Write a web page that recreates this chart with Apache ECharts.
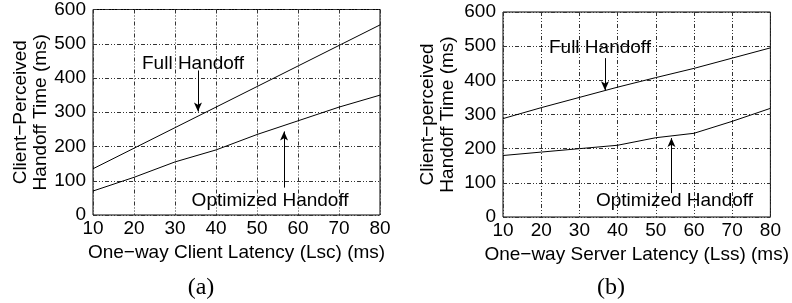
<!DOCTYPE html>
<html>
<head>
<meta charset="UTF-8">
<title>Handoff time</title>
<style type="text/css">
  body { margin: 0; background: #fff; }
  #main { width: 792px; height: 303px; }
</style>
</head>
<body>
<div id="main"></div>
<script src="https://cdn.jsdelivr.net/npm/echarts@6/dist/echarts.min.js"></script>
<script type="text/javascript">
// latency values on the x axis (ms)
var latency = [10, 20, 30, 40, 50, 60, 70, 80];
// (a) varying client latency
var fullA = [135, 195, 255, 315, 375, 435, 495, 555];
var optA = [70, 110, 155, 190, 235, 275, 315, 350];
// (b) varying server latency
var fullB = [288, 320, 350, 380, 408, 435, 465, 495];
var optB = [180, 190, 200, 210, 232, 245, 280, 318];

var font = 'Liberation Sans';
var fs = 19;
var gridLine = { show: true, lineStyle: { color: '#333', width: 1, type: [4, 2, 1, 2, 1, 2] } };

function pairs(ys) {
  return latency.map(function (x, i) { return [x, ys[i]]; });
}

function xAx(idx, name) {
  return {
    type: 'value', gridIndex: idx, min: 10, max: 80, interval: 10,
    name: name, nameLocation: 'middle', nameGap: 22,
    nameTextStyle: { fontFamily: font, fontSize: fs, color: '#000' },
    axisLine: { show: false }, axisTick: { show: false },
    axisLabel: { fontFamily: font, fontSize: fs, color: '#000', margin: 4 },
    splitLine: gridLine
  };
}
function yAx(idx, name, gap) {
  return {
    type: 'value', gridIndex: idx, min: 0, max: 600, interval: 100,
    name: name, nameLocation: 'middle', nameGap: gap,
    nameTextStyle: { fontFamily: font, fontSize: fs, color: '#000', lineHeight: 20 },
    axisLine: { show: false }, axisTick: { show: false },
    axisLabel: { fontFamily: font, fontSize: fs, color: '#000', margin: 7 },
    splitLine: gridLine
  };
}

// arrow + text note placed in data coordinates
function note(text, tx, ty, ax, ay1, ay2) {
  return {
    markLine: {
      silent: true, symbol: ['none', 'arrow'], symbolSize: [6, 9],
      lineStyle: { color: '#000', width: 1, type: 'solid' },
      label: { show: false },
      data: [[{ coord: [ax, ay1] }, { coord: [ax, ay2] }]]
    },
    markPoint: {
      silent: true, symbol: 'rect', symbolSize: 1,
      itemStyle: { color: 'rgba(0,0,0,0)' },
      label: { show: true, position: 'inside', formatter: text,
        fontFamily: font, fontSize: fs, color: '#000' },
      data: [{ coord: [tx, ty] }]
    }
  };
}

function line(idx, ys, extra) {
  var s = {
    type: 'line', xAxisIndex: idx, yAxisIndex: idx, data: pairs(ys),
    showSymbol: false, animation: false,
    lineStyle: { color: '#000', width: 1 }
  };
  for (var k in extra) s[k] = extra[k];
  return s;
}

var myChart = echarts.init(document.getElementById('main'));
var option = {
  animation: false,
  grid: [
    { left: 93, right: 412, top: 7, bottom: 88, show: true, borderColor: '#000', borderWidth: 1 },
    { left: 503, right: 8, top: 12, bottom: 86, show: true, borderColor: '#000', borderWidth: 1 }
  ],
  xAxis: [xAx(0, 'One\u2212way Client Latency (Lsc) (ms)'), xAx(1, 'One\u2212way Server Latency (Lss) (ms)')],
  yAxis: [yAx(0, 'Client\u2212Perceived\nHandoff Time (ms)', 41), yAx(1, 'Client\u2212perceived\nHandoff Time (ms)', 45)],
  series: [
    line(0, fullA, note('Full Handoff', 34.4, 442, 35.6, 422, 302)),
    line(0, optA, note('Optimized Handoff', 53.2, 43, 56.6, 80, 244)),
    line(1, fullB, note('Full Handoff', 35.4, 494, 36.7, 465, 371)),
    line(1, optB, note('Optimized Handoff', 54.9, 47, 54.1, 70, 231))
  ],
  graphic: [
    { type: 'text', x: 201, y: 288, style: { text: '(a)', fontFamily: 'Liberation Serif', fontSize: 24, fill: '#000', align: 'center', verticalAlign: 'middle' } },
    { type: 'text', x: 611, y: 288, style: { text: '(b)', fontFamily: 'Liberation Serif', fontSize: 24, fill: '#000', align: 'center', verticalAlign: 'middle' } }
  ]
};
myChart.setOption(option);
</script>
</body>
</html>
